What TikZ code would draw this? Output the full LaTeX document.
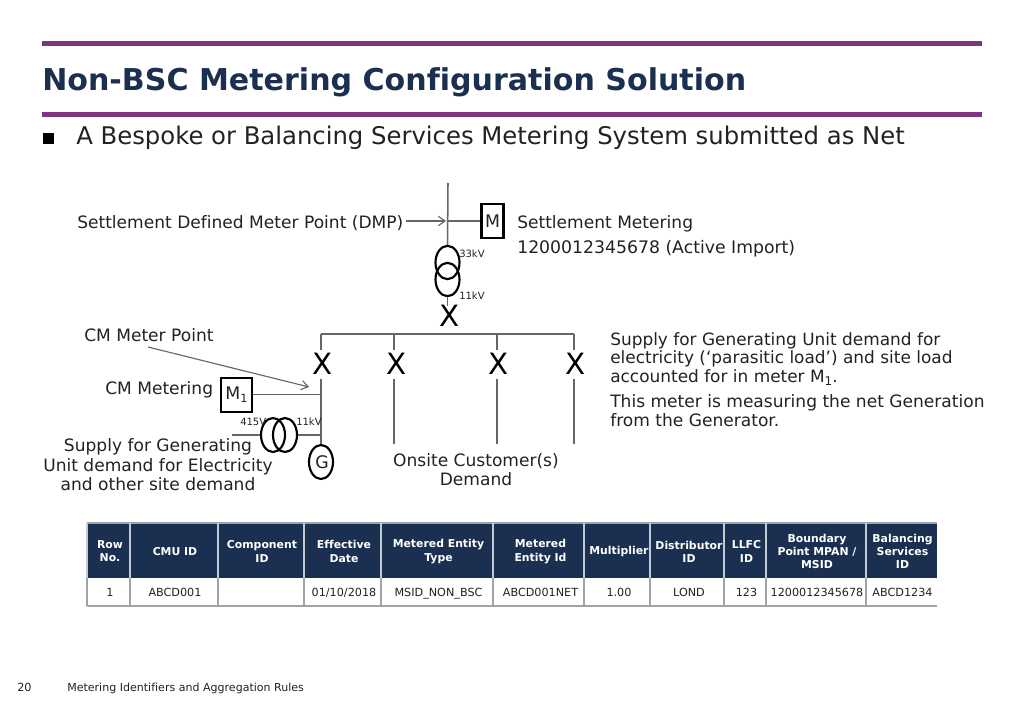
\documentclass[tikz,border=0pt]{standalone}
\usepackage{fontspec}
\setmainfont[Ligatures=NoCommon]{DejaVu Sans}
\usetikzlibrary{arrows.meta,shapes.geometric}
\definecolor{navy}{HTML}{1B2F50}
\definecolor{plum}{HTML}{7F3580}
\definecolor{wire}{HTML}{666666}
\definecolor{ink}{HTML}{222222}
\definecolor{grid}{HTML}{A0A4AA}
\definecolor{gridlight}{HTML}{C4CAD4}
\newcommand{\fs}[2]{\fontsize{#1pt}{#2pt}\selectfont}
\tikzset{
  x=0.75pt,y=-0.75pt,
  rulebar/.style={draw=none,fill=plum,minimum width=705pt,minimum height=3.75pt,inner sep=0pt,anchor=center},
  wireline/.style={draw=wire,line width=1.15pt},
  arrowline/.style={draw=wire,line width=0.85pt,-{Straight Barb[length=5pt,width=7pt]}},
  meterbox/.style={draw=black,line width=1.7pt,fill=white,inner sep=0pt,text=ink,font=\fs{13}{15}},
  coil/.style={draw=black,line width=1.6pt,ellipse,inner sep=0pt},
  lab/.style={text=ink,font=\fs{12.8}{14.6},inner sep=0pt,align=center},
  labl/.style={lab,align=left,anchor=base west},
  small/.style={text=ink,font=\fs{7.5}{9},inner sep=0pt},
  cross/.style={text=black,font=\fs{22}{22},inner sep=0pt},
  head/.style={text=white,font=\bfseries\fs{8.15}{9.9},inner sep=0pt,align=center},
  cell/.style={text=ink,font=\fs{8.4}{10},inner sep=0pt,anchor=base},
}
\begin{document}
\begin{tikzpicture}
\useasboundingbox (0,0) rectangle (1024,724);
% header
\node[rulebar] (ruleA) at (511.5,44) {};
\node[rulebar] (ruleB) at (511.5,114) {};
\node[anchor=base west,inner sep=0pt,text=navy,font=\bfseries\fs{22.55}{26}] (title) at (42,90) {Non-BSC Metering Configuration Solution};
\node[anchor=center,inner sep=0pt,fill=black,minimum size=8pt] (bullet) at (48.7,138.5) {};
\node[anchor=base west,inner sep=0pt,text=ink,font=\fs{18.24}{20}] (sub) at (76,144) {A Bespoke or Balancing Services Metering System submitted as Net};
% upper feeder
\coordinate (top) at (448,183);
\coordinate (dmp) at (448,221);
\node[meterbox,minimum width=16.5pt,minimum height=25.5pt] (M) at (492.5,221) {M};
\node[coil,minimum width=18pt,minimum height=25pt] (T1) at (447.5,262.5) {};
\node[coil,minimum width=18pt,minimum height=25pt] (T2) at (447.5,279.5) {};
\node[labl] (dmptxt) at (77,228) {Settlement Defined Meter Point (DMP)};
\coordinate (dmpEnd) at (406,221);
\draw[wireline] (top) -- (T1.north);
\draw[wireline] (dmp) -- (M.west);
\draw[arrowline] (dmpEnd) -- (446,221);
\node[labl] (smA) at (517,228.5) {Settlement Metering};
\node[labl,font=\fs{12.95}{14.6}] (smB) at (517,253) {1200012345678 (Active Import)};
\node[small,anchor=base west] (k33) at (459,257) {33kV};
\node[small,anchor=base west] (k11) at (459,299.5) {11kV};
% bus
\coordinate (xTop) at (447.5,306);
\draw[wireline] (T2.south) -- (xTop);
\node[cross] (X0) at (450,316) {X};
\coordinate (busL) at (321,334);
\coordinate (busR) at (574,334);
\draw[wireline] (busL) -- (busR);
\foreach \n/\x/\tx in {a/321/323,b/394/397,c/497/499,d/574/576}{
  \coordinate (d\n) at (\x,334);
  \coordinate (e\n) at (\x,350);
  \coordinate (f\n) at (\x,379);
  \coordinate (g\n) at (\x,444);
  \draw[wireline] (d\n) -- (e\n);
  \node[cross] (X\n) at (\tx,363.5) {X};
}
\draw[wireline] (fb) -- (gb);
\draw[wireline] (fc) -- (gc);
\draw[wireline] (fd) -- (gd);
% generator branch
\node[coil,minimum width=18pt,minimum height=25.5pt] (G) at (321,462) {};
\node[text=ink,font=\fs{13}{15},inner sep=0pt] (Gt) at (322,462.5) {G};
\draw[wireline] (fa) -- (G.north);
\node[meterbox,minimum width=23pt,minimum height=25.5pt] (M1) at (236.5,395) {M\raisebox{-0.35ex}{\fs{8.5}{9}1}};
\coordinate (m1j) at (321,394.5);
\draw[wireline] (M1.east |- m1j) -- (m1j);
\coordinate (hL) at (232,435);
\coordinate (hR) at (321,435);
\node[coil,minimum width=18pt,minimum height=25.5pt] (H1) at (273,435) {};
\node[coil,minimum width=18pt,minimum height=25.5pt] (H2) at (285,435) {};
\draw[wireline] (hL) -- (H1.west);
\draw[wireline] (H2.east) -- (hR);
\node[small,anchor=base west] (v415) at (240,425) {415V};
\node[small,anchor=base west] (k11b) at (296,425) {11kV};
\node[labl] (cmp) at (84,341) {CM Meter Point};
\coordinate (cmpS) at (148,347);
\coordinate (cmpE) at (309,387);
\draw[arrowline] (cmpS) -- (cmpE);
\node[labl] (cmm) at (105,394) {CM Metering};
\node[lab] (sup) at (158,465) {Supply for Generating\\Unit demand for Electricity\\and other site demand};
\node[lab] (ons) at (476,469.5) {Onsite Customer(s)\\Demand};
% right note
\node[labl,font=\fs{12.7}{13.65}] (noteA) at (610,382) {Supply for Generating Unit demand for\\electricity (‘parasitic load’) and site load\\accounted for in meter M\raisebox{-0.4ex}{\fs{9}{9}1}.};
\node[labl,font=\fs{12.8}{13.65}] (noteB) at (610,426) {This meter is measuring the net Generation\\from the Generator.};
% table
\fill[navy] (87,523) rectangle (937,578);
\fill[white] (87,578) rectangle (937,606);
\draw[grid,line width=0.9pt] (87,523) -- (937,523);
\draw[grid,line width=0.9pt] (87,606) -- (937,606);
\foreach \x in {87,130,218,304,381,493,584,650,724,766,866}{
  \draw[gridlight,line width=0.9pt] (\x,523) -- (\x,578);
  \draw[grid,line width=0.9pt] (\x,578) -- (\x,606);
}
\foreach \i/\cx/\hx/\h/\c in {
 a/110/110/{Row\\No.}/1,
 b/175/175/{CMU ID}/ABCD001,
 c/261/262/{Component\\ID}/{},
 d/344/344/{Effective\\Date}/01\slash 10\slash 2018,
 e/438.5/438.5/{Metered Entity\\Type}/MSID\_NON\_BSC,
 f/540.5/540.5/{Metered\\Entity Id}/ABCD001NET,
 g/619/619/{Multiplier}/1.00,
 h/689/689/{Distributor\\ID}/LOND,
 i/746.5/746.5/{LLFC\\ID}/123,
 j/817/817/{Boundary\\Point MPAN /\\MSID}/1200012345678,
 k/902.5/902.5/{Balancing\\Services\\ID}/ABCD1234}{
  \node[head] (h\i) at (\hx,551.5) {\h};
  \node[cell] (c\i) at (\cx,596) {\c};
}
% footer
\node[anchor=base west,inner sep=0pt,text=ink,font=\fs{8.4}{10}] (pg) at (17,691) {20};
\node[anchor=base west,inner sep=0pt,text=ink,font=\fs{8.28}{10}] (ft) at (67,691) {Metering Identifiers and Aggregation Rules};
\end{tikzpicture}
\end{document}
